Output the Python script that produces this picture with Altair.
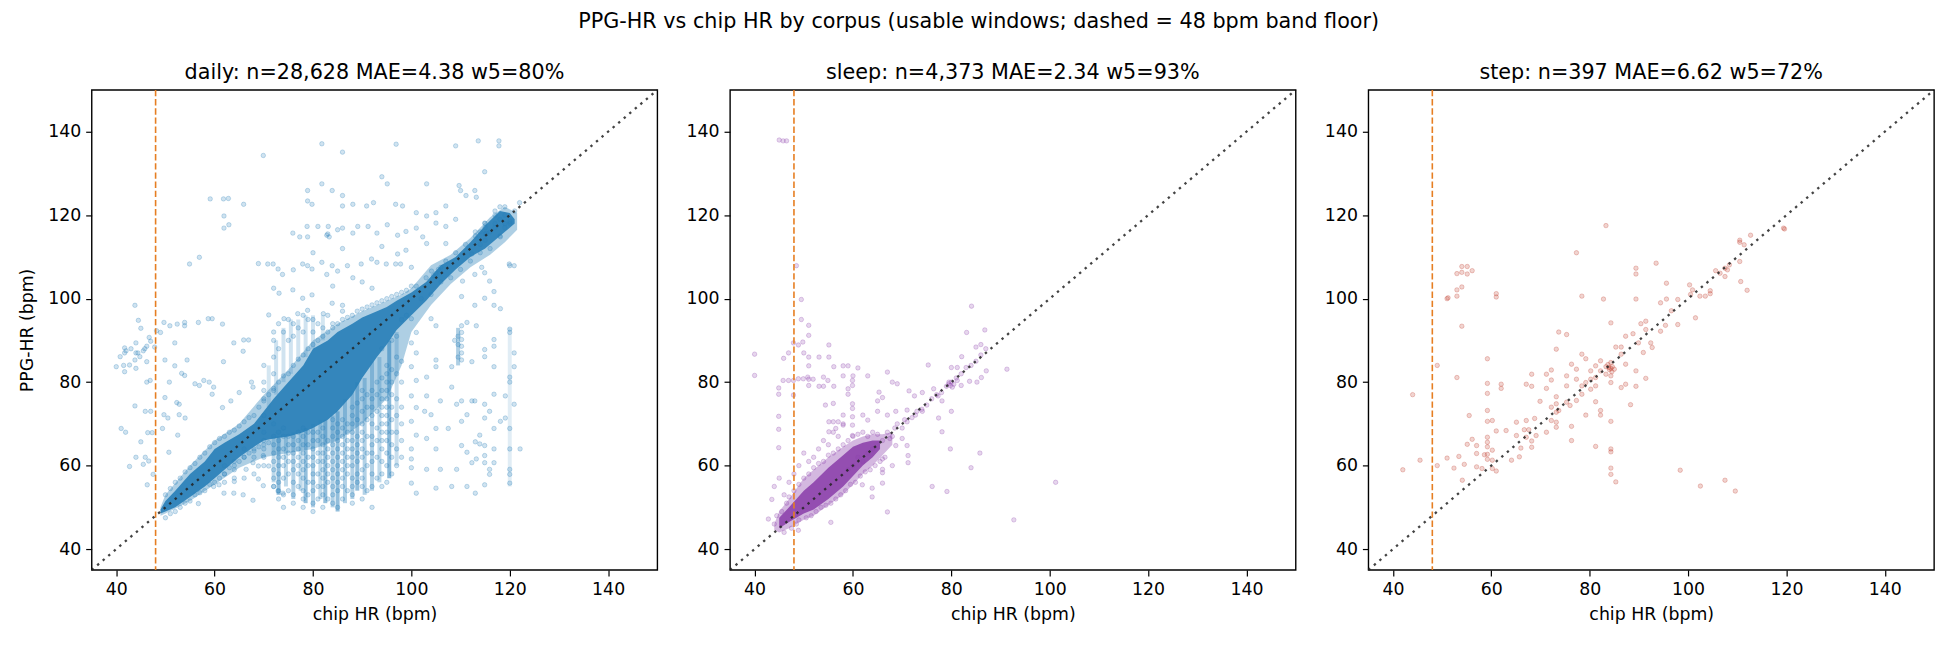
import altair as alt
import pandas as pd

FONT = "DejaVu Sans"
C_DAILY = "#2980b9"
C_SLEEP = "#8e44ad"
C_STEP = "#c0392b"
C_FLOOR = "#e67e22"

SUPTITLE = "PPG-HR vs chip HR by corpus (usable windows; dashed = 48 bpm band floor)"
TITLES = ["daily: n=28,628 MAE=4.38 w5=80%",
          "sleep: n=4,373 MAE=2.34 w5=93%",
          "step: n=397 MAE=6.62 w5=72%"]
TICKS = [40, 60, 80, 100, 120, 140]
AXIS_RANGE = [35, 150]
FLOOR = [48]
DIAG = [35, 150]

# ---------------- daily ----------------
# solid core of the cloud (lower / upper edge per chip HR)
daily_core_x = [49, 50, 52, 55, 58, 60, 62, 65, 68, 70, 72, 75, 78, 80, 83, 85, 88, 90, 93, 95, 97, 100, 103, 106, 109, 112, 115, 118, 120, 121]
daily_core_lo = [48.5, 49, 50, 52.5, 55, 57, 59, 62, 64.5, 66, 66.5, 67, 68, 69, 71, 73, 77, 81, 86, 89, 92.5, 96, 99.5, 103.5, 107, 110, 112, 115, 117, 118]
daily_core_hi = [49.5, 51.5, 54, 58, 61, 64, 65.5, 67.5, 70, 73, 76, 80, 84, 88, 90, 92, 94, 95.5, 97, 98, 99.5, 101.5, 104, 108, 110, 113.5, 117.5, 121, 120.5, 119]
# medium-density fringe around the core
daily_mid_x = [49, 50, 55, 60, 65, 70, 75, 80, 85, 90, 95, 98, 100, 104, 108, 112, 116, 119, 121.5]
daily_mid_lo = [48, 48.5, 51.5, 55.5, 59.5, 62, 63, 64, 66, 70, 76, 84, 92, 98.5, 103.5, 107.5, 110.5, 113.5, 116.5]
daily_mid_hi = [50, 53, 60, 66, 70, 77, 83, 90, 94, 97, 99.5, 101, 102.5, 108, 110.5, 114.5, 119.5, 122, 120.5]
# vertical streaks (chip HR column, PPG-HR range, relative density)
daily_streak_x = [72, 73, 74.5, 76, 77.5, 78.5, 80, 81.5, 82.5, 84, 85, 86.5, 88, 89, 90.5, 92, 93.5, 95.5, 97,
                  71, 72.5, 74, 75.5, 77, 78.5, 80, 82, 109.5, 120]
daily_streak_lo = [56, 53, 55, 52, 54, 51, 50, 52, 51, 50, 49, 51, 52, 54, 53, 54, 56, 57, 60,
                   74, 77, 80, 82, 85, 86, 88, 90, 84, 55]
daily_streak_hi = [67, 67, 67, 68, 68, 69, 70, 71, 71, 72, 73, 76, 78, 80, 81, 85, 86, 90, 92,
                   84, 90, 93, 95, 95, 96, 96, 96, 93, 93]
daily_streak_w = [0.3, 0.5, 0.3, 0.36, 0.3, 0.5, 0.36, 0.3, 0.5, 0.36, 0.5, 0.36, 0.36, 0.5, 0.36, 0.36, 0.3, 0.55, 0.26,
                  0.2, 0.22, 0.22, 0.22, 0.22, 0.22, 0.22, 0.2, 0.38, 0.14]

daily_left = [(40, 83.7), (40.8, 86.1), (41.7, 88.2), (41.7, 87), (41.7, 82.5), (42.7, 84.1), (43.8, 85.3), (44, 87),
              (44, 89.4), (44, 83.3), (44.4, 87), (44.8, 86.1), (45, 92.9), (45.8, 88), (46.2, 88.6), (46.2, 84.9),
              (43.8, 98.4), (44.5, 94.8), (47, 89.8), (47.8, 88.4), (46.7, 90.7), (41, 68.9), (41.9, 68), (42.7, 59.8),
              (43.8, 74.3), (45.5, 60.3), (46.6, 61.1), (46.3, 55.4), (45.9, 73), (47.5, 57.9), (47.3, 67.9), (46.4, 67.9),
              (47, 73), (46.2, 80), (46.9, 80.4), (45, 65.7), (44, 62), (45.9, 62), (42, 87.5), (43, 88), (45.5, 87.5), (41.5, 84)]
daily_upper_left = [(48.2, 92.3), (49, 91.9), (49.7, 94.3), (50.9, 93.5), (51.9, 89.4), (52.4, 93.9), (53.9, 94.3), (53.9, 93.5),
                    (56.7, 94.3), (58.7, 95.2), (59.5, 95.2), (61.6, 93.9), (54.9, 108.3), (56.9, 109.9), (59.1, 123.9),
                    (61.8, 123.9), (62.8, 124), (61.9, 119.8), (61.9, 116.9), (62.9, 117.7), (65.9, 122.6), (69.9, 134.3),
                    (68.9, 108.4), (49.9, 85.3), (50.8, 80), (51.9, 83.9), (49.9, 76.3), (52.3, 75.1), (53.3, 82.1),
                    (54.4, 85.3), (53.9, 81.6), (56, 79.6), (56.9, 79.2), (57.8, 80.4), (58.9, 80), (59.8, 78.8), (61.8, 84.9),
                    (63.9, 89.4), (65.9, 90.1), (66.9, 90.1), (65.8, 87.4), (61.6, 73.9), (59.5, 77.1), (63.3, 75.5), (65, 77.5),
                    (67.5, 80), (67.8, 78.8), (49.7, 72.2), (50.5, 71.4), (52.8, 72.2), (54, 71.4), (52.8, 74.7), (49.4, 68.9),
                    (52.5, 67.3), (50.7, 63.2)]
daily_lower_left = [(56.7, 50.9), (61.9, 53.4), (63.9, 53.4), (65.8, 53), (68.9, 56.8), (69.9, 55.2), (72, 55), (73.9, 53.4),
                    (72.9, 53.9), (67.8, 51.7), (64, 56.2), (60.9, 55.4), (59.8, 55), (66.4, 59.1), (68.9, 59.9), (71, 59.9),
                    (69.9, 62.4), (67.8, 60.7), (62, 56), (62, 58), (62, 60), (64, 57), (64, 59), (64, 61), (66, 57), (66, 62),
                    (66, 64), (68, 58), (68, 62), (68, 64)]
daily_above_mid = [(70.8, 108.3), (71.9, 108.3), (72.9, 107.1), (73.8, 105.8), (76, 106.9), (77.9, 108.3), (78.9, 107.9),
                   (79.8, 107.1), (81.8, 108.7), (82.8, 105.8), (83.9, 107.9), (85, 106.6), (87, 107.9), (88.1, 105),
                   (89.8, 108.3), (91.9, 109.5), (93, 108.7), (94.9, 108.3), (96.8, 108.3), (97.8, 108.3),
                   (75.9, 115.7), (77.3, 114.8), (78.8, 117.3), (78.9, 114.8), (81, 117.3), (82.8, 115.2), (83.1, 117.3),
                   (85, 116.5), (86, 116.9), (88.1, 115.7), (89.1, 117.3), (91.2, 117.3), (93, 115.7), (95.1, 117.7),
                   (97.2, 115.2), (98.9, 116.1), (101, 116.9), (78.9, 125.9), (78.9, 123.4), (79.8, 122.6), (81.8, 127.5),
                   (83.9, 125.9), (86, 124.7), (86, 122.2), (88.1, 122.6), (90.9, 122.2), (92.3, 123), (94, 129.2),
                   (95.1, 127.5), (96.8, 122.6), (98.2, 122.2), (103.1, 127.5), (81.8, 137.1), (86, 135.1), (96.9, 137),
                   (72, 102.5), (73.1, 101.3), (75.9, 102.1), (77.9, 100.1), (79.8, 100.9), (82.1, 96.4), (83.9, 98.9),
                   (86, 98.4), (71, 96.1), (74.1, 95.2), (76.9, 96.4), (78.9, 97.2), (83, 115.5), (83.3, 114.8), (84, 103),
                   (90, 104), (92, 102.5), (80, 111), (86, 112), (94, 112.5)]
daily_col_x = [70, 72, 73, 74, 75, 76, 77, 78, 79, 80, 81, 82, 83, 84, 85, 86, 87, 88, 89, 90, 91, 92, 93, 94, 95, 96, 97, 98]
daily_col_y = [
    [60, 62, 64, 66, 68, 72, 76, 78, 80, 84],
    [55, 57, 59, 61, 63, 65, 67, 70, 78, 82, 86, 90, 92],
    [52, 54, 56, 58, 60, 62, 64, 66, 68, 88, 94],
    [50, 53, 57, 60, 62, 64, 67, 69, 92],
    [54, 58, 61, 63, 65, 67, 90, 95],
    [51, 53, 56, 59, 61, 63, 65, 67, 91, 94],
    [55, 58, 60, 62, 64, 66, 68, 93],
    [50, 52, 54, 57, 59, 61, 63, 65, 67, 69, 92, 96],
    [53, 56, 60, 62, 65, 68, 95],
    [49, 51, 54, 56, 58, 60, 62, 64, 66, 68, 92, 95],
    [52, 55, 58, 61, 63, 66, 68, 94],
    [50, 53, 55, 57, 59, 61, 63, 65, 67, 69, 93],
    [52, 56, 58, 60, 62, 64, 66, 96],
    [51, 53, 55, 57, 59, 61, 63, 65, 67, 69, 71, 94],
    [50, 54, 56, 58, 60, 62, 64, 66, 68, 70],
    [52, 55, 57, 59, 61, 63, 65, 67, 69, 71, 97],
    [54, 58, 60, 62, 64, 66, 68, 70],
    [51, 53, 55, 57, 60, 62, 64, 66, 68, 70, 72, 74],
    [56, 58, 61, 63, 65, 67, 71, 75],
    [52, 55, 57, 59, 62, 64, 66, 68, 70, 73, 76, 78],
    [54, 60, 63, 67, 71, 74, 77],
    [50, 55, 58, 61, 63, 65, 67, 70, 72, 74, 76, 78],
    [57, 62, 66, 69, 73, 77, 80],
    [55, 58, 61, 64, 66, 68, 70, 72, 74, 76, 78, 81],
    [56, 60, 63, 66, 68, 70, 72, 74, 76, 78, 80, 82, 84],
    [58, 62, 65, 68, 71, 74, 77, 80, 83],
    [60, 64, 68, 72, 76, 82, 86],
    [62, 66, 70, 74, 80, 85],
]
daily_halo = [(50, 47.5), (51, 48.5), (52, 49), (53, 50), (54, 51), (55, 51.5), (56, 53), (57, 53.5), (58, 54), (59, 55.5),
              (60, 56), (61, 57), (62, 58), (63, 59.5), (64, 60), (65, 61), (66, 62), (67, 63), (68, 63.5), (69, 64.5),
              (70, 65), (71, 65.5), (50, 53), (51, 54.5), (52, 56), (53, 57), (54, 58.5), (55, 59.5), (56, 60.5), (57, 62),
              (58, 63), (59, 64.5), (60, 65.5), (61, 66.5), (62, 67), (63, 68), (64, 68.5), (65, 69.5), (66, 70.5),
              (67, 71.5), (68, 72), (69, 74), (70, 75.5), (71, 77), (72, 78.5), (73, 80), (74, 81.5), (75, 82), (76, 84),
              (77, 85.5), (78, 86.5), (79, 88), (80, 89), (81, 90), (82, 91), (83, 92), (84, 93), (85, 94), (86, 95),
              (87, 95.5), (88, 96), (89, 97), (90, 97.5), (91, 98), (92, 98.5), (93, 99), (94, 99.5), (95, 100),
              (96, 100.5), (97, 101), (98, 101.5), (99, 102), (100, 103), (101, 103), (102, 100), (103, 105), (104, 101),
              (106, 104), (107, 109), (108, 105), (109, 111), (110, 107), (111, 113), (112, 109), (113, 116), (114, 111),
              (115, 117), (116, 112), (117, 120), (118, 115), (119, 122), (120, 118), (121, 121), (122, 123), (119, 117),
              (117, 117), (115, 114), (114, 113), (116, 116), (105, 106), (104.5, 105.5), (105.5, 107), (106, 107.5),
              (113, 115), (114, 116), (115, 115.5), (117, 118), (118, 119), (119, 120), (117, 121), (118, 122),
              (119, 118), (120, 118.5), (115, 118), (98, 95), (99, 96), (97, 91), (96, 90), (94, 88)]
daily_right = [(100, 95.2), (101, 91.9), (100, 89.4), (101, 87), (100, 83.7), (101, 80.4), (100, 76.7), (101, 73.9),
               (100, 70.6), (101, 67.3), (100, 64), (100, 61.6), (100, 59.5), (100, 55.8), (101, 53.4), (103.1, 81.2),
               (103.1, 76.7), (104, 72.2), (105, 68.9), (103.1, 66.5), (105, 64), (103.1, 59.1), (105, 54.6),
               (105.9, 59.1), (105, 85.3), (105, 83.7), (105, 93.5), (104, 95.2), (105.9, 75.5), (102.7, 73),
               (108.2, 55), (109.2, 59.1), (110.2, 64.8), (110.2, 70.6), (110.2, 75.5), (110.2, 93.5), (110.2, 91.9),
               (110.2, 90.2), (110.2, 88.6), (110.2, 87), (110.2, 85.3), (110.2, 100.5), (111.3, 72.2), (111.3, 63.2),
               (112.3, 60.7), (108.2, 78.8), (109.2, 74.7), (108.2, 83.7), (107.5, 68.9), (112.3, 84.9), (112.3, 75.5),
               (111.3, 94.3), (113, 53.4), (111.3, 55), (112.9, 98.4), (113.2, 93.5), (114.9, 100.1), (114.9, 87.8),
               (114.9, 86.1), (114.9, 74.7), (114.9, 71.4), (114.9, 64.8), (114.9, 62.4), (114.9, 60.7), (114.9, 55.4),
               (115.9, 59.1), (115.9, 57.9), (115.9, 73), (116.8, 101.7), (116.8, 98.4), (116.8, 90.2), (116.8, 88.6),
               (116.8, 83.7), (116.8, 77.1), (116.8, 68.9), (116.8, 64), (116.8, 60.7), (113.9, 65.2), (113.9, 67.3),
               (112.9, 75.5), (113, 65.7), (113.2, 61.6), (118.1, 70.6), (119.1, 71.4), (119.1, 76.7), (120, 80),
               (120, 81.2), (120, 64), (120, 59.1), (120, 57.9), (120, 55.8), (120, 68.9), (120, 92.7), (120, 91.9),
               (120.9, 87), (120.9, 83.7), (120.9, 74.7), (120, 107.9), (120.9, 107.9), (122.1, 64), (118.1, 97.6),
               (101, 120.6), (103.1, 119.8), (105, 120.6), (107, 113.2), (109.7, 127.1), (110, 125.9), (111.1, 124.7),
               (112.9, 125.9), (113.2, 124.3), (114.9, 130.4), (113.6, 137.8), (117.8, 137.8), (117.8, 136.6),
               (109, 136.6), (107, 122.2), (109, 119), (107, 117.3), (105, 118.1), (112.3, 110.7), (114.3, 107.5),
               (112.9, 105.8), (114.9, 106.2), (115.9, 104.2), (119.9, 108.3), (118.1, 114.8), (114.9, 118.1),
               (115.2, 115.7), (102.3, 114.8), (103.1, 113.2), (98.9, 111.6), (97.2, 110.7), (100, 107.5),
               (110.4, 104.2), (104.1, 106.6), (109.5, 89), (109.5, 91), (109.5, 86), (108.8, 90)]

# ---------------- sleep ----------------
sleep_core_x = [45, 47, 50, 52, 55, 58, 60, 62, 64, 65.5]
sleep_core_lo = [45, 46.5, 48.5, 49.5, 52, 55, 57.5, 60, 62, 64]
sleep_core_hi = [47.5, 50, 54, 56, 59.5, 62.5, 64.5, 65.5, 66, 66]
sleep_mid_x = [44, 45, 47, 50, 52, 55, 58, 60, 62, 64, 66, 68]
sleep_mid_lo = [44.5, 44, 45, 47, 48, 50.5, 53, 55.5, 58, 60, 62.5, 65]
sleep_mid_hi = [46, 49, 52, 57, 59, 62, 64.5, 66, 67, 67.5, 67.5, 68]
sleep_points = [(45, 138), (45.8, 137.8), (46.5, 137.8), (48.5, 107.9), (49.5, 99.8), (49.5, 95), (51, 93.6), (51, 91.2),
                (47.9, 89.4), (48.9, 88.9), (49.8, 89.6), (46.9, 87), (45.9, 85.7), (50, 87), (40, 86.7), (40, 81.6),
                (51, 86), (51, 83.9), (53.1, 86), (55.1, 86), (55.1, 88.9), (45.8, 80.4), (46.9, 80.4), (47.9, 80.4),
                (48.9, 80.8), (49.9, 80.8), (50.8, 81.2), (51, 80.7), (51.9, 80.7), (51, 79.2), (44.9, 78.6), (44.9, 77.1),
                (47.9, 76.9), (54, 81.2), (54.9, 80.4), (53.1, 79), (54, 79), (56.1, 79), (56.1, 83.7), (58, 83.9),
                (59, 83.9), (58, 81.5), (60, 81.5), (61, 83.4), (63, 81.5), (67, 82.4), (59, 78.4), (59, 77.1),
                (59.9, 80.4), (59.9, 79.2), (59.9, 74.8), (59.9, 73.7), (65.3, 77.6), (66, 76.3), (65, 75.5), (65, 73),
                (68, 80), (69, 79.6), (54.4, 74.5), (56, 74.9), (55.1, 70.5), (55.1, 68.1), (57, 70.5), (56.5, 68.9),
                (58, 69.7), (58, 72.1), (59.9, 71.7), (59.9, 69.7), (59.9, 67.2), (62, 72.1), (63, 70.9), (67, 72.1),
                (68.7, 73), (71, 73.3), (72.7, 72.1), (74.1, 73), (71.4, 77.9), (72.5, 76.7), (74.1, 77.5), (75.3, 84.1),
                (76.4, 78.4), (77.3, 76.7), (78.1, 75.5), (77.4, 71.4), (78.1, 68.1), (79.5, 79.6), (79.8, 79.2),
                (80.2, 78.8), (80, 83.5), (81.2, 83.5), (82.1, 86.1), (80, 73), (82, 79.2), (81.2, 80.4), (83.1, 91.9),
                (84.1, 98.2), (85, 88.4), (86, 89), (86.8, 92.5), (86.1, 81.1), (85.2, 80), (87.1, 82.7), (83.7, 80.2),
                (84, 59.5), (85.8, 63), (79.8, 64), (79.1, 53.8), (76.1, 55), (91.3, 83.1), (92.7, 47), (101.2, 56),
                (67, 48.9), (63.9, 52.5), (63.9, 54.6), (66, 55.8), (61.9, 55.4), (55.5, 46.4), (48.9, 44.5), (42.8, 47.2),
                (43.5, 51.9), (44.9, 64.3), (44.9, 68.7), (44.9, 71.8), (68.7, 64.8), (70, 66.5), (71.2, 62.4),
                (71.2, 60.7), (71, 64.8), (68, 60), (66, 59.1), (66, 58.3), (66, 61.6),
                (44, 46), (44.5, 48), (45.5, 49), (46, 44), (46.5, 51), (47, 52.5), (47.5, 45), (48, 54), (48.5, 46),
                (49, 55.5), (49, 47), (50, 57), (50.5, 47.5), (51, 58), (51.5, 48), (52, 59.5), (52.5, 49), (53, 60.5),
                (53.5, 50), (54, 61), (54.5, 50.5), (55, 62.5), (55.5, 51), (56, 63), (56.5, 52), (57, 64), (57.5, 53),
                (58, 65), (58.5, 54), (59, 66), (59.5, 55.5), (60, 67), (60.5, 56), (61, 67.5), (61.5, 57.5), (62, 68),
                (62.5, 58.5), (63, 67), (63.5, 59), (64, 68), (64.5, 60), (65, 67.5), (65.5, 61), (66, 66), (66.5, 62),
                (67, 68), (67.5, 66.5), (68, 67), (68.5, 69), (69, 70), (70, 69), (70.5, 71), (71, 70.5), (72, 71.5),
                (73, 73), (74, 73.5), (75, 74.5), (76, 76), (77, 77), (78, 77.5), (79, 79), (80, 80), (80.5, 79.5),
                (79.5, 80), (81, 81), (82, 82), (83, 83.5), (84, 84), (85, 85), (86, 86.5), (87, 88), (52, 62), (53, 64),
                (54, 66), (55, 65), (56, 68), (57, 67), (58, 70), (56, 70.5), (50, 63), (51, 61), (49, 60), (48, 58),
                (44, 55), (45, 57), (46, 53), (47, 56), (62, 61), (63, 63), (64, 64), (61, 62), (60, 60), (59, 59)]

# ---------------- step ----------------
step_points = [(42, 59), (44, 77), (45.5, 61.3), (49, 84), (49, 60), (51, 61.8), (51, 100), (51.2, 100.2), (52.4, 59.4),
               (53, 102.1), (53, 100.6), (53, 106), (53, 81.1), (53.4, 62.2), (54, 106.3), (54, 107.7), (54, 102.8),
               (54, 93.4), (55.1, 107.7), (55.1, 105.9), (56.1, 106.7), (54.5, 60.3), (54.1, 56.5), (55.5, 72),
               (55.1, 65.1), (56.1, 66.3), (57, 64.8), (57, 62.9), (57, 59.7), (58.6, 62.6), (59.2, 85.6), (59.2, 79.7),
               (59.2, 77.3), (59.2, 73.2), (59.2, 70.6), (59.2, 66.8), (59.2, 65.6), (59.2, 64.5), (59.2, 62.7),
               (59.2, 61.5), (58.1, 59.3), (60.2, 61.3), (60.2, 59.3), (61, 58.7), (60.2, 70.8), (60.2, 63.7),
               (61, 101.2), (61, 100.4), (61, 68.3), (62, 79.5), (62, 78.5), (63, 68.4), (64.1, 61.3), (65.1, 70.4),
               (65.1, 67.2), (65.7, 62.1), (66, 64.2), (66.7, 68.6), (67.1, 70.8), (67.1, 66.8), (67.6, 68.6),
               (68.2, 65.9), (68.2, 64.4), (68.2, 81.9), (67.1, 79.5), (68.2, 79), (69.1, 67.2), (68.8, 71.3),
               (69.9, 75.4), (71.2, 68), (71.2, 81.9), (71.2, 78.5), (72.2, 82.9), (72.2, 80.5), (72.2, 70.8),
               (72.2, 74), (73.2, 69.2), (73.2, 70.4), (73.2, 72.8), (73.2, 74.8), (73.2, 76.5), (73.7, 73.2),
               (73.2, 87.9), (73.7, 92), (75.3, 91.4), (75.3, 81.5), (75.3, 79.1), (75.3, 75.2), (76, 74.4),
               (76.3, 69.4), (76.3, 66), (76.3, 84.3), (77.3, 111), (77.3, 83.1), (77.3, 80.7), (77.3, 75.6),
               (78.4, 100.6), (78.4, 86.7), (78.4, 79.1), (78.4, 77.1), (79.2, 85.6), (79.2, 79.9), (79.2, 72.1),
               (80.2, 82.7), (80.2, 80.7), (80.2, 78.3), (81.2, 83.9), (81.2, 81.1), (81.2, 79.1), (81.2, 75.3),
               (81.2, 64.6), (82.2, 85.1), (82.2, 82.7), (82.2, 73.2), (82.2, 72.1), (82.8, 99.9), (83.3, 117.5),
               (83.3, 83.7), (83.3, 81.9), (83.9, 83.5), (84.3, 83.3), (84.6, 83.7), (85, 83.1), (84.3, 84.7),
               (84, 83), (84.5, 82.5), (83.7, 84.2), (84.3, 94.2), (84.3, 70.6), (84.3, 64), (84.3, 63.3), (84.3, 59.4),
               (84.3, 57.9), (85.3, 56.1), (84.3, 81.5), (84.3, 79.9), (85.3, 88.4), (86.4, 88.4), (86.4, 86.7),
               (86.4, 78.7), (87.3, 91), (87.3, 84.3), (87.3, 79.5), (88.3, 74.6), (88.8, 91.6), (89.4, 82.7),
               (89.4, 79), (89.4, 107.3), (89.4, 105.9), (89.4, 99.9), (89.9, 89.4), (90.9, 87.1), (91.4, 80.9),
               (90.4, 94), (91.4, 94.6), (91.4, 92.6), (92.4, 89.4), (92.7, 88.3), (93.5, 108.5), (94.4, 99),
               (94.4, 92.2), (95.6, 103.7), (95.6, 99.9), (95.4, 93.6), (96.6, 97.1), (97.9, 99.8), (97.9, 93.8),
               (98.4, 58.9), (100.3, 103.3), (100.9, 102.1), (100.5, 101), (101.5, 95.4), (102.4, 100.6),
               (103.5, 100.6), (104.5, 101.9), (104.5, 101.2), (102.5, 55.1), (105.6, 106.7), (106.5, 106.1),
               (107.5, 105.3), (107.5, 107.3), (108.4, 108.1), (108, 106.9), (107.5, 56.5), (109.6, 53.9),
               (110.5, 114), (110.5, 113.5), (111.4, 112.9), (112.7, 115.2), (110.7, 104.1), (112, 102),
               (110.5, 108.9), (119.6, 116.7), (119.4, 116.9)]


def pts_frame(pairs):
    return pd.DataFrame(pairs, columns=["x", "y"])


daily_col_pairs = [(cx, cy) for cx, col in zip(daily_col_x, daily_col_y) for cy in col]
daily_df = pts_frame(daily_left + daily_upper_left + daily_lower_left + daily_above_mid +
                     daily_col_pairs + daily_halo + daily_right)
daily_core = pd.DataFrame({"x": daily_core_x, "lo": daily_core_lo, "hi": daily_core_hi})
daily_mid = pd.DataFrame({"x": daily_mid_x, "lo": daily_mid_lo, "hi": daily_mid_hi})
daily_streaks = pd.DataFrame({"x": daily_streak_x, "lo": daily_streak_lo, "hi": daily_streak_hi, "w": daily_streak_w})
sleep_df = pts_frame(sleep_points)
sleep_core = pd.DataFrame({"x": sleep_core_x, "lo": sleep_core_lo, "hi": sleep_core_hi})
sleep_mid = pd.DataFrame({"x": sleep_mid_x, "lo": sleep_mid_lo, "hi": sleep_mid_hi})
step_df = pts_frame(step_points)

diag_df = pd.DataFrame({"x": DIAG, "y": DIAG})
floor_df = pd.DataFrame({"x": FLOOR})

SCALE = alt.Scale(domain=AXIS_RANGE, nice=False, zero=False)


def xenc():
    return alt.X("x:Q", scale=SCALE, title="chip HR (bpm)",
                 axis=alt.Axis(values=TICKS, grid=False, tickSize=6, labelPadding=5, titlePadding=7))


def yenc(field, title):
    return alt.Y(field, scale=SCALE, title=title,
                 axis=alt.Axis(values=TICKS, grid=False, tickSize=6, labelPadding=5, titlePadding=11))


def panel(df, core, mid, streaks, color, title, ytitle):
    layers = []
    if mid is not None:
        layers.append(alt.Chart(mid).mark_area(color=color, opacity=0.38).encode(
            x=xenc(), y=yenc("lo:Q", ytitle), y2="hi:Q"))
    if streaks is not None:
        layers.append(alt.Chart(streaks).mark_rule(color=color, strokeWidth=4).encode(
            x=xenc(), y=yenc("lo:Q", ytitle), y2="hi:Q", opacity=alt.Opacity("w:Q", scale=None)))
    if core is not None:
        layers.append(alt.Chart(core).mark_area(color=color, opacity=0.92).encode(
            x=xenc(), y=yenc("lo:Q", ytitle), y2="hi:Q"))
    layers.append(alt.Chart(df).mark_circle(size=20, color=color, fillOpacity=0.22,
                                            stroke=color, strokeWidth=0.9, strokeOpacity=0.3).encode(
        x=xenc(), y=yenc("y:Q", ytitle)))
    layers.append(alt.Chart(floor_df).mark_rule(color=C_FLOOR, strokeWidth=1.6, strokeDash=[6.4, 2.8]).encode(
        x=xenc()))
    layers.append(alt.Chart(diag_df).mark_line(color="#222222", opacity=0.85, strokeWidth=2.3,
                                               strokeDash=[2.4, 4.9]).encode(
        x=xenc(), y=yenc("y:Q", ytitle)))
    return alt.layer(*layers).properties(
        width=568, height=482,
        title=alt.TitleParams(text=title, fontSize=20.8, fontWeight="normal", font=FONT,
                              anchor="middle", offset=2, color="black"))


p1 = panel(daily_df, daily_core, daily_mid, daily_streaks, C_DAILY, TITLES[0], "PPG-HR (bpm)")
p2 = panel(sleep_df, sleep_core, sleep_mid, None, C_SLEEP, TITLES[1], None)
p3 = panel(step_df, None, None, None, C_STEP, TITLES[2], None)

chart = alt.hconcat(p1, p2, p3, spacing=22).properties(
    title=alt.TitleParams(text=SUPTITLE, fontSize=20.8, fontWeight="normal", font=FONT,
                          anchor="middle", offset=28, color="black"),
    padding={"left": 10, "top": 2, "right": 2, "bottom": 2},
).configure_view(stroke="black", strokeWidth=1.4).configure_axis(
    labelFont=FONT, titleFont=FONT, labelFontSize=17.4, titleFontSize=17.4,
    labelColor="black", titleColor="black", tickColor="black", tickWidth=1.2, domain=False,
    titleFontWeight="normal",
)

chart.save("out.html", embed_options={"renderer": "svg", "actions": False})
